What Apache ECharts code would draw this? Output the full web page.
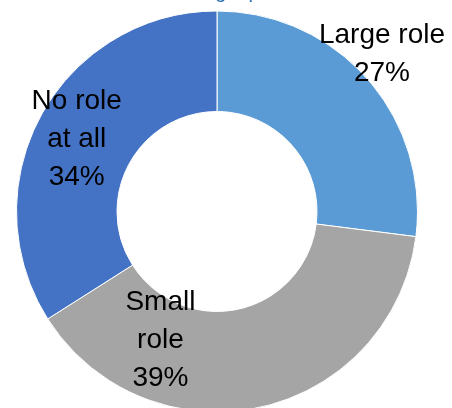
<!DOCTYPE html>
<html>
<head>
<meta charset="utf-8">
<script src="https://cdn.jsdelivr.net/npm/echarts@6/dist/echarts.min.js"></script>
<style>
html,body{margin:0;padding:0;background:#fff;}
#chart{width:452px;height:408px;}
</style>
</head>
<body>
<div id="chart"></div>
<script>
const categories = ["Large role", "Small role", "No role at all"];
const values = [27, 39, 34];
const labelTexts = ["Large role\n27%", "Small\nrole\n39%", "No role\nat all\n34%"];
const colors = ["#5B9BD5", "#A5A5A5", "#4472C4"];
const labelOffsets = [[50, -56], [-90, -21], [-6, 2]];

const chart = echarts.init(document.getElementById('chart'), null, {renderer: 'canvas'});
chart.setOption({
  animation: false,
  title: {
    text: 'Role in making a purchase',
    left: 94,
    top: -18,
    padding: 0,
    textStyle: {fontFamily: 'Liberation Sans', fontSize: 20, fontWeight: 'normal', color: '#2E75B6'}
  },
  series: [{
    type: 'pie',
    center: [217, 211.5],
    radius: [100, 200.5],
    startAngle: 90,
    clockwise: true,
    avoidLabelOverlap: false,
    itemStyle: {borderColor: '#ffffff', borderWidth: 1},
    label: {
      show: true,
      position: 'inside',
      fontFamily: 'Liberation Sans',
      fontSize: 28,
      lineHeight: 38,
      color: '#000000',
      align: 'center'
    },
    labelLine: {show: false},
    emphasis: {disabled: true},
    data: categories.map((c, i) => ({
      name: c,
      value: values[i],
      itemStyle: {color: colors[i]},
      label: {formatter: labelTexts[i], offset: labelOffsets[i]}
    }))
  }]
});
</script>
</body>
</html>
